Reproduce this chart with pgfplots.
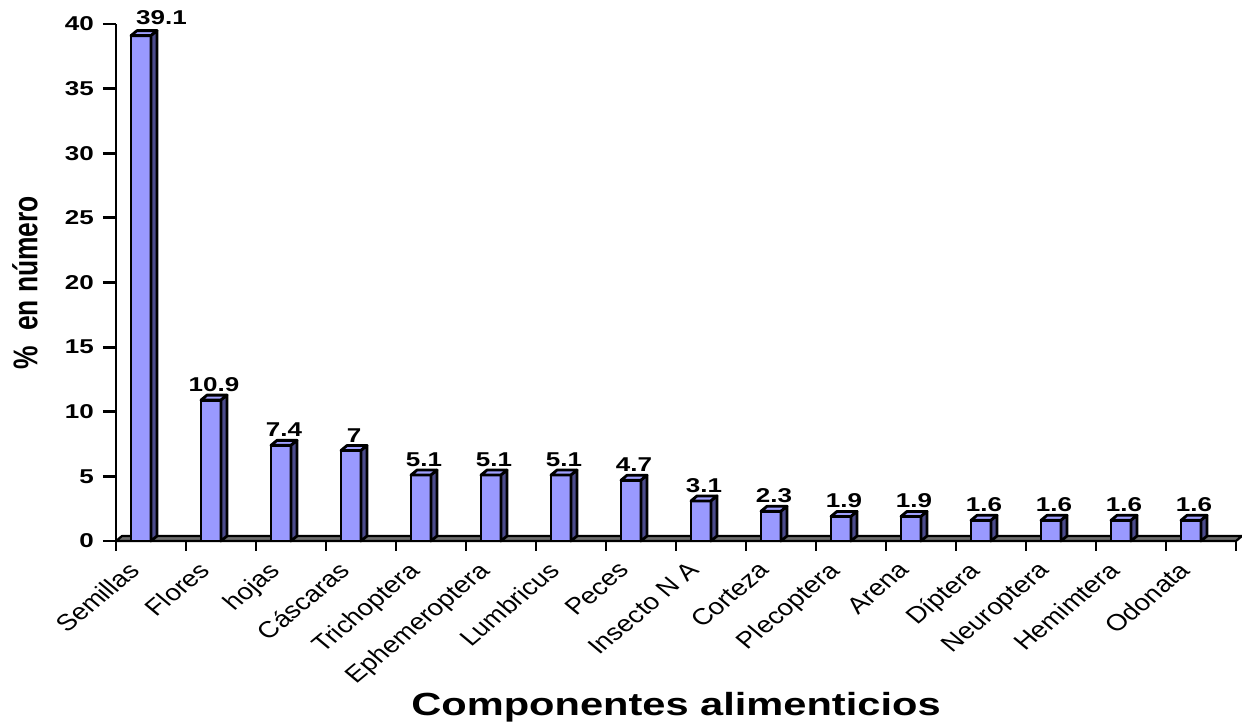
\documentclass[border=0pt]{standalone}
\usepackage{pgfplots}
\pgfplotsset{compat=1.18}
\usepackage{fontspec}
\setmainfont{Liberation Sans}

\definecolor{barfront}{RGB}{153,153,255}
\definecolor{bartop}{RGB}{160,160,255}
\definecolor{barside}{RGB}{76,76,140}
\definecolor{floorgray}{RGB}{110,110,110}

% depth of the 3D columns: 3pt right, 2.5pt up; 1 unit on y = 6.4625pt
\pgfdeclareplotmark{box3d}{%
  \pgfpathmoveto{\pgfpoint{-10pt}{0pt}}%
  \pgfpathlineto{\pgfpoint{0pt}{0pt}}%
  \pgfpathlineto{\pgfpoint{3pt}{2.5pt}}%
  \pgfpathlineto{\pgfpoint{-7pt}{2.5pt}}%
  \pgfpathclose
  \pgfsetfillcolor{bartop}%
  \pgfusepath{fill,stroke}%
  \pgfpathmoveto{\pgfpoint{0pt}{0pt}}%
  \pgfpathlineto{\pgfpoint{3pt}{2.5pt}}%
  \pgfpathlineto{\pgfpoint{3pt}{2.5pt-\barval*6.4625pt}}%
  \pgfpathlineto{\pgfpoint{0pt}{-\barval*6.4625pt}}%
  \pgfpathclose
  \pgfsetfillcolor{barside}%
  \pgfusepath{fill,stroke}%
}

\pgfplotstableread{
idx val
0  39.1
1  10.9
2  7.4
3  7
4  5.1
5  5.1
6  5.1
7  4.7
8  3.1
9  2.3
10 1.9
11 1.9
12 1.6
13 1.6
14 1.6
15 1.6
}\dieta

\begin{document}
\begin{tikzpicture}
\useasboundingbox (-58pt,-92.5pt) rectangle (563pt,270.5pt);
\begin{axis}[
  scale only axis,
  width=560pt, height=258.5pt,
  xmin=-0.5, xmax=15.5,
  ymin=0, ymax=40,
  clip=false,
  axis x line*=bottom, axis y line*=left,
  axis line style={line width=1.4pt},
  tick style={line width=1.4pt, black},
  tick align=outside,
  major tick length=6.5pt,
  minor tick length=5pt,
  ytick={0,5,...,40},
  xtick={0,...,15},
  major x tick style={draw=none},
  minor xtick={-0.5,0.5,...,15.5},
  xticklabels={Semillas,Flores,hojas,Cáscaras,Trichoptera,Ephemeroptera,Lumbricus,Peces,Insecto N A,Corteza,Plecoptera,Arena,Díptera,Neuroptera,Hemimtera,Odonata},
  /pgf/number format/assume math mode=true,
  yticklabel style={font=\bfseries\fontsize{10}{12}\selectfont, xscale=1.3},
  xticklabel style={font=\fontsize{11.5}{13}\selectfont, anchor=north east, inner sep=0pt,
    xshift=-12pt, yshift=-3pt, xscale=1.2, rotate=45},
  every axis y label/.style={at={(axis description cs:0,0.5)}, xshift=-45.5pt, xscale=1.3, rotate=90, anchor=center, font=\bfseries\fontsize{13.2}{15}\selectfont},
  every axis x label/.style={at={(axis description cs:0.5,0)}, yshift=-83pt, xscale=1.3, anchor=center, font=\bfseries\fontsize{16}{19}\selectfont},
  ylabel={\%\ \ en número},
  xlabel={Componentes alimenticios},
]
% floor band behind the zero line
\filldraw[fill=floorgray, draw=black, line width=1.1pt, line join=round]
  (axis cs:-0.5,0) -- (axis cs:15.5,0) -- ++(3pt,2.5pt)
  -- ([shift={(3pt,2.5pt)}]axis cs:-0.5,0) -- cycle;
% front faces, with the value over each column
\addplot[ybar, bar width=10pt, bar shift=-5pt, fill=barfront, draw=black,
  line width=1.4pt, line join=round,
  visualization depends on={value \coordindex \as \ci},
  nodes near coords,
  nodes near coords style={font=\bfseries\fontsize{10}{12}\selectfont,
    anchor=south, inner sep=0pt,
    yshift={3.5pt+(\ci==0)*1.5pt}, xshift={-3.5pt+(\ci==0)*8.75pt}, xscale=1.3}]
  table[x=idx, y=val] {\dieta};
% top and side faces
\addplot[scatter, only marks, mark=box3d,
  scatter/use mapped color={draw=black, fill=bartop},
  mark options={line width=1.4pt, line join=round},
  visualization depends on={rawy \as \barval}]
  table[x=idx, y=val] {\dieta};
\end{axis}
\end{tikzpicture}
\end{document}
